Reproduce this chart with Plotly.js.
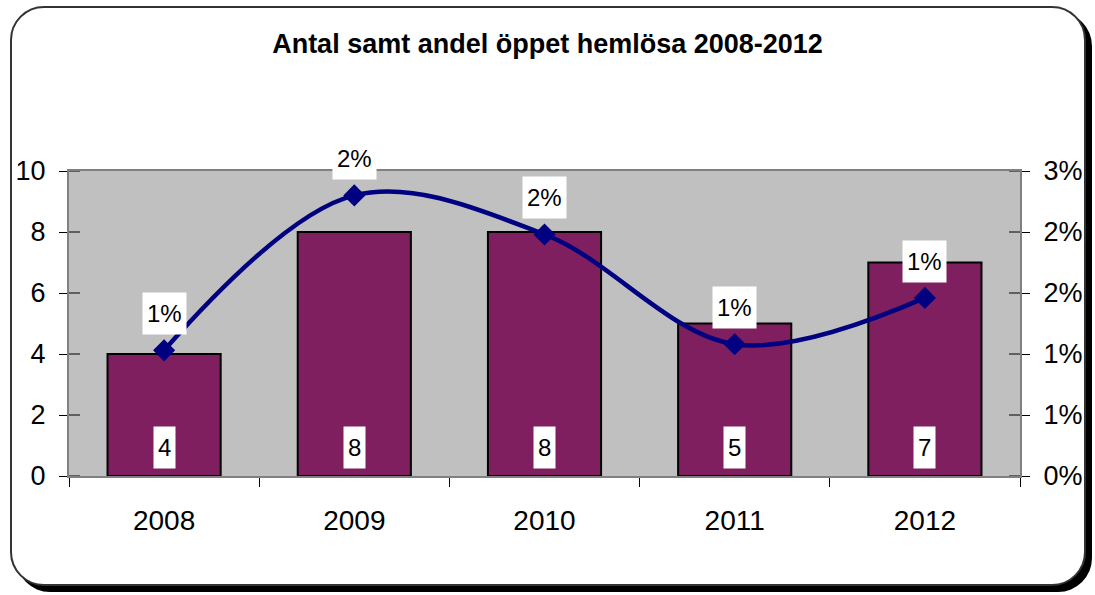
<!DOCTYPE html>
<html>
<head>
<meta charset="utf-8">
<script src="https://cdn.plot.ly/plotly-3.0.1.min.js"></script>
<style>
  html, body { margin: 0; padding: 0; background: #fff; }
  #wrap { position: relative; width: 1095px; height: 595px; overflow: hidden; }
  #frame { position: absolute; left: 10px; top: 6px; width: 1072px; height: 576px;
           border: 2px solid #333; border-radius: 34px; box-shadow: 6px 6px 0 #000; background: #fff; }
  #chart { position: absolute; left: 0; top: 0; width: 1095px; height: 595px; }
</style>
</head>
<body>
<div id="wrap">
  <div id="frame"></div>
  <div id="chart"></div>
</div>
<script>
const years = ["2008", "2009", "2010", "2011", "2012"];
const antal = [4, 8, 8, 5, 7];
const andelPct = [1.03, 2.30, 1.98, 1.08, 1.46];
const andelLabels = ["1%", "2%", "2%", "1%", "1%"];
const leftTicks = [0, 2, 4, 6, 8, 10];
const rightTickVals = [0, 0.5, 1, 1.5, 2, 2.5];
const rightTickText = ["0%", "1%", "1%", "2%", "2%", "3%"];

const FONT = "Liberation Sans, Arial, sans-serif";

const bars = {
  type: "bar", x: years, y: antal, yaxis: "y",
  marker: { color: "#7F1F5F", line: { color: "#000", width: 2 } },
  width: 0.595, hoverinfo: "skip"
};
const line = {
  type: "scatter", mode: "lines+markers", x: years, y: andelPct, yaxis: "y2",
  line: { color: "#000080", width: 4.5, shape: "spline", smoothing: 1 },
  marker: { symbol: "diamond", size: 17, color: "#000080" },
  hoverinfo: "skip"
};

const annotations = [];
years.forEach((yr, i) => {
  annotations.push({
    x: i, y: 0, xref: "x", yref: "y", yanchor: "bottom", yshift: 7,
    text: String(antal[i]), showarrow: false, bgcolor: "#fff", borderpad: 4, height: 33,
    font: { family: FONT, size: 24, color: "#000" }
  });
  annotations.push({
    x: i, y: andelPct[i], xref: "x", yref: "y2", yanchor: "bottom", yshift: 15,
    text: andelLabels[i], showarrow: false, bgcolor: "#fff", borderpad: 4, height: 33,
    font: { family: FONT, size: 24, color: "#000" }
  });
});

// inner halves of the crossing tick marks
const shapes = [];
leftTicks.forEach(v => shapes.push({
  type: "line", xref: "paper", yref: "y", x0: 0, x1: 11 / 951, y0: v, y1: v,
  line: { color: "#000", width: 1 }
}));
rightTickVals.forEach(v => shapes.push({
  type: "line", xref: "paper", yref: "y2", x0: 1 - 11 / 951, x1: 1, y0: v, y1: v,
  line: { color: "#000", width: 1 }
}));

const layout = {
  width: 1095, height: 595,
  margin: { l: 69, r: 75, t: 171, b: 119 },
  paper_bgcolor: "rgba(0,0,0,0)",
  plot_bgcolor: "#C0C0C0",
  showlegend: false,
  title: { text: "<b>Antal samt andel öppet hemlösa 2008-2012</b>", x: 0.5, xanchor: "center",
           y: 1 - 44 / 595, yanchor: "middle", yref: "container",
           font: { family: FONT, size: 27, color: "#000" } },
  font: { family: FONT, color: "#000" },
  xaxis: {
    type: "category", range: [-0.5, 4.5], tickson: "boundaries", ticks: "outside", ticklen: 9, tickcolor: "#000",
    showline: true, linecolor: "#808080", linewidth: 2, mirror: true, tickangle: 0,
    tickfont: { family: FONT, size: 28 }, showgrid: false, zeroline: false, ticklabelstandoff: 18
  },
  yaxis: {
    range: [0, 10], tickvals: leftTicks, ticks: "outside", ticklen: 8, tickcolor: "#000",
    showline: true, linecolor: "#808080", linewidth: 2,
    showgrid: false, zeroline: false, tickfont: { family: FONT, size: 27 }, ticklabelstandoff: 8
  },
  yaxis2: {
    range: [0, 2.5], tickvals: rightTickVals, ticktext: rightTickText, overlaying: "y", side: "right",
    ticks: "outside", ticklen: 8, tickcolor: "#000", showline: true, linecolor: "#808080", linewidth: 2,
    showgrid: false, zeroline: false, tickfont: { family: FONT, size: 27 }, ticklabelstandoff: 8
  },
  shapes: shapes,
  annotations: annotations
};

Plotly.newPlot("chart", [bars, line], layout, { displayModeBar: false, staticPlot: true });
</script>
</body>
</html>
